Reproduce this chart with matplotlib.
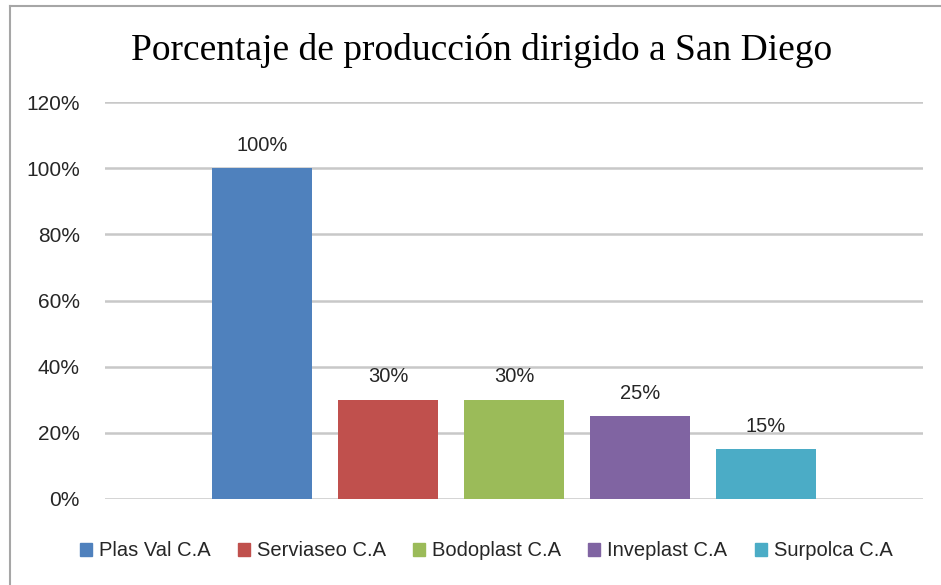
import matplotlib
matplotlib.use("Agg")
import matplotlib.pyplot as plt
from matplotlib.patches import Rectangle
from matplotlib.lines import Line2D

series = ["Plas Val C.A", "Serviaseo C.A", "Bodoplast C.A", "Inveplast C.A", "Surpolca C.A"]
values = [100, 30, 30, 25, 15]
colors = ["#4F81BD", "#C0504D", "#9BBB59", "#8064A2", "#4BACC6"]
yticks = [0, 20, 40, 60, 80, 100, 120]
ytick_labels = ["0%", "20%", "40%", "60%", "80%", "100%", "120%"]
title = "Porcentaje de producción dirigido a San Diego"

W, H = 941, 585
fig = plt.figure(figsize=(W / 100, H / 100), dpi=100)
fig.patch.set_facecolor("white")

# chart frame (top and left visible)
fig.add_artist(Line2D([10 / W, 10 / W], [0, 1 - 6 / H], color="#A6A6A6", lw=1.5, transform=fig.transFigure))
fig.add_artist(Line2D([10 / W, 1], [1 - 6 / H, 1 - 6 / H], color="#A6A6A6", lw=1.5, transform=fig.transFigure))

left, right = 105 / W, 923 / W
bottom, top = 1 - 499 / H, 1 - 102 / H
ax = fig.add_axes([left, bottom, right - left, top - bottom])

bw = 100 / 126
pos = list(range(len(values)))
for i, (v, c, s) in enumerate(zip(values, colors, series)):
    ax.bar(pos[i], v, width=bw, color=c, label=s, zorder=3)
    ax.text(pos[i], v + 7.0, f"{v}%", ha="center", va="center",
            fontsize=14.5, family="Liberation Sans", color="#262626", zorder=4)

xl = -bw / 2 - 107 / 126
ax.set_xlim(xl, len(values) - 1 - xl)
ax.set_ylim(0, 120)
ax.set_yticks(yticks)
ax.set_yticklabels(ytick_labels, family="Liberation Sans", fontsize=15, color="#262626")
ax.set_xticks([])
ax.tick_params(axis="y", length=0, pad=18)
ax.yaxis.grid(True, color="#C8C8C8", lw=1.8, zorder=0)
for sp in ax.spines.values():
    sp.set_visible(False)
ax.set_axisbelow(True)

fig.text(482 / W, 1 - 51 / H, title, ha="center", va="center",
         family="Liberation Serif", fontsize=27, color="black")

handles = [Rectangle((0, 0), 1, 1, color=c) for c in colors]
fig.legend(handles, series, loc="center", bbox_to_anchor=(486 / W, 1 - 551 / H),
           ncol=5, frameon=False, prop={"family": "Liberation Sans", "size": 14.5},
           handlelength=0.6, handleheight=0.6, handletextpad=0.35, columnspacing=1.35,
           labelcolor="#262626")

fig.savefig("out.png", dpi=100, facecolor="white")
